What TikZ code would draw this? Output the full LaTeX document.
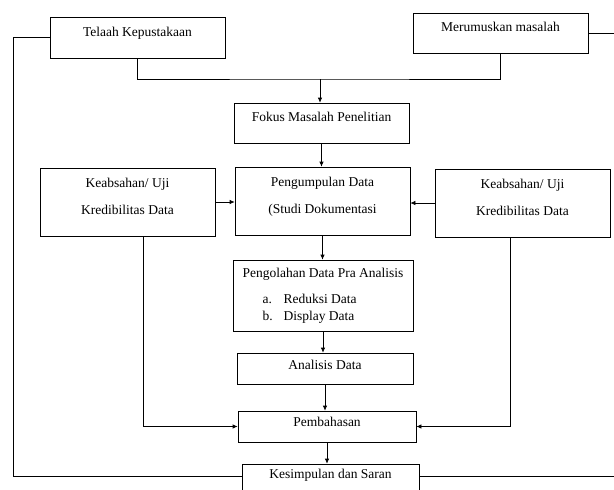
\documentclass[tikz,border=0pt]{standalone}
\usepackage{fontspec}
\setmainfont{Liberation Serif}
\usepackage{tikz}
\usetikzlibrary{arrows.meta,calc}

\begin{document}
\begin{tikzpicture}[x=1pt,y=-1pt,line width=0.7pt,>={Latex[length=5pt,width=4.5pt]},
  kotak/.style={draw,minimum width=175pt,inner sep=2pt,align=center,text depth=12pt,font=\fontsize{13.5}{16}\selectfont},
  dua/.style={kotak,minimum height=68pt,font=\fontsize{13.5}{27}\selectfont}]
\useasboundingbox (0,0) rectangle (614,490);
\clip (0,0) rectangle (614,490);
\node[kotak,minimum height=41pt] (telaah) at (137.5,37.5) {Telaah Kepustakaan};
\node[kotak,minimum height=40pt] (rumus) at (500.5,33) {Merumuskan masalah};
\node[kotak,minimum height=40pt] (fokus) at (321.5,123) {Fokus Masalah Penelitian};
\node[dua] (kumpul) at (322.5,201) {Pengumpulan Data\\(Studi Dokumentasi};
\node[dua] (ujikiri) at (127.5,202) {Keabsahan/ Uji\\Kredibilitas Data};
\node[dua] (ujikanan) at (522.5,203) {Keabsahan/ Uji\\Kredibilitas Data};
\node[kotak,minimum width=180pt,minimum height=71pt,align=left,text depth=3pt,font=\fontsize{13.5}{17}\selectfont] (olah) at (323,295.5) {Pengolahan Data Pra Analisis\\[9pt]\hspace*{20pt}\makebox[21pt][l]{a.}Reduksi Data\\\hspace*{20pt}\makebox[21pt][l]{b.}Display Data};
\node[kotak,minimum width=176pt,minimum height=31pt,text depth=7pt] (analisis) at (325,368.5) {Analisis Data};
\node[kotak,minimum width=178pt,minimum height=31pt,text depth=9pt] (bahas) at (327,426.5) {Pembahasan};
\node[kotak,minimum width=177pt,minimum height=32pt] (simpul) at (330.5,480) {Kesimpulan dan Saran};
\coordinate (gabung) at (320,79);
\coordinate (kiri) at (13,0);
\coordinate (kanan) at (614,0);
\draw (telaah.south) |- (gabung) -| (rumus.south);
\draw[->] (gabung) -- (gabung |- fokus.north);
\draw[->] (fokus.south) -- (fokus.south |- kumpul.north);
\draw[->] (ujikiri.east) -- (ujikiri.east -| kumpul.west);
\draw[->] (ujikanan.west) -- (ujikanan.west -| kumpul.east);
\draw[->] (kumpul.south) -- (kumpul.south |- olah.north);
\draw[->] (olah.south) -- (olah.south |- analisis.north);
\draw[->] (analisis.south) -- (analisis.south |- bahas.north);
\draw[->] (bahas.south) -- (bahas.south |- simpul.north);
\draw[->] ([xshift=16pt]ujikiri.south) |- (bahas.west);
\draw[->] ([xshift=-12pt]ujikanan.south) |- (bahas.east);
\draw (telaah.west) -- (telaah.west -| kiri) |- ([yshift=4pt]simpul.west);
\draw (rumus.east) -- (rumus.east -| kanan);
\draw ([yshift=4pt]simpul.east) -- ([yshift=4pt]simpul.east -| kanan);
\end{tikzpicture}
\end{document}
